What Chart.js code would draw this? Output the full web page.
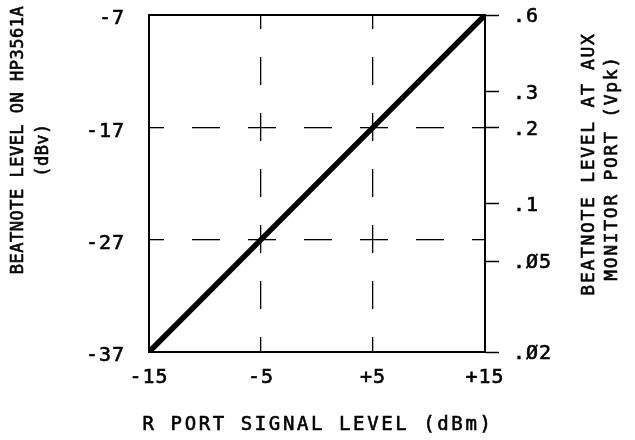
<!DOCTYPE html>
<html>
<head>
<meta charset="utf-8">
<script src="https://cdn.jsdelivr.net/npm/chart.js@4"></script>
<style>
  html, body { margin: 0; padding: 0; background: #fff; }
  #wrap { width: 635px; height: 440px; }
</style>
</head>
<body>
<div id="wrap"><canvas id="chart" width="635" height="440"></canvas></div>
<script>
// R port signal level (dBm) vs beatnote level (dBV)
const signalLevel = [-15, -5, 5, 15];
const beatnoteLevel = [-37, -27, -17, -7];

const xTickValues = [-15, -5, 5, 15];
const xTickLabels = ['-15', '-5', '+5', '+15'];
const yTickValues = [-37, -27, -17, -7];
// right axis: Vpk labels, placed at the dBV level
const rightTickValues = [-7, -13.8, -17, -23.8, -28.9, -37];
const rightTickLabels = ['.6', '.3', '.2', '.1', '.Ø5', '.Ø2'];

const FONT = 'DejaVu Sans Mono';

// dashed grid lines only at the inner ticks
const innerGrid = (lo, hi) => ctx => {
    const v = ctx.tick ? ctx.tick.value : null;
    return (v === lo || v === hi) ? 'rgba(0,0,0,0)' : '#000';
};

// no extra room for half labels at the ends, the plot box is fixed
const noPad = s => {
    s.paddingTop = 0;
    s.paddingBottom = 0;
    s.paddingLeft = 0;
    s.paddingRight = 0;
};

function rotatedText(ctx, text, x, y) {
    ctx.save();
    ctx.translate(x, y);
    ctx.rotate(-Math.PI / 2);
    ctx.strokeText(text, 0, 0);
    ctx.fillText(text, 0, 0);
    ctx.restore();
}

const titlePlugin = {
    id: 'titles',
    beforeDraw(chart) {
        chart.ctx.letterSpacing = '1px';
    },
    afterDraw(chart) {
        const ctx = chart.ctx;
        ctx.save();
        ctx.fillStyle = '#000';
        ctx.strokeStyle = '#000';
        ctx.lineWidth = 0.6;
        ctx.textAlign = 'center';
        ctx.textBaseline = 'middle';

        // bottom title
        ctx.font = '19px "' + FONT + '"';
        ctx.letterSpacing = '2.6px';
        ctx.strokeText('R PORT SIGNAL LEVEL (dBm)', 318, 425);
        ctx.fillText('R PORT SIGNAL LEVEL (dBm)', 318, 425);

        // left title
        ctx.font = '17px "' + FONT + '"';
        ctx.letterSpacing = '0.5px';
        rotatedText(ctx, 'BEATNOTE LEVEL ON HP3561A', 19, 140);
        rotatedText(ctx, '(dBv)', 44, 150);

        // right title
        ctx.font = '18px "' + FONT + '"';
        ctx.letterSpacing = '1.7px';
        rotatedText(ctx, 'BEATNOTE LEVEL AT AUX', 589, 164);
        rotatedText(ctx, 'MONITOR PORT (Vpk)', 612, 168);

        ctx.restore();
    }
};

const tickFont = { family: FONT, size: 20 };

const data = {
    datasets: [{
        data: signalLevel.map((x, i) => ({ x: x, y: beatnoteLevel[i] })),
        borderColor: '#000',
        borderWidth: 5.5,
        pointRadius: 0,
        tension: 0,
        xAxisID: 'x',
        yAxisID: 'y'
    }]
};

const config = {
    type: 'line',
    data: data,
    options: {
        responsive: false,
        animation: false,
        devicePixelRatio: 1,
        layout: { padding: { top: 15, left: 0, right: 0, bottom: 0 } },
        plugins: {
            legend: { display: false },
            tooltip: { enabled: false }
        },
        scales: {
            x: {
                type: 'linear',
                position: 'bottom',
                min: -15,
                max: 15,
                afterBuildTicks: s => { s.ticks = xTickValues.map(v => ({ value: v })); },
                afterFit: s => { s.height = 88; noPad(s); },
                ticks: {
                    callback: (v, i) => xTickLabels[i],
                    color: '#000',
                    textStrokeColor: '#000',
                    textStrokeWidth: 0.6,
                    padding: 14,
                    maxRotation: 0,
                    font: tickFont
                },
                grid: {
                    color: innerGrid(-15, 15),
                    lineWidth: 1.3,
                    drawTicks: false
                },
                border: { display: true, color: '#000', width: 2, dash: [28, 28], dashOffset: 14 }
            },
            xTop: {
                type: 'linear',
                position: 'top',
                min: -15,
                max: 15,
                afterFit: s => { s.height = 0; noPad(s); },
                ticks: { display: false },
                grid: { display: false },
                border: { display: true, color: '#000', width: 2 }
            },
            y: {
                type: 'linear',
                position: 'left',
                min: -37,
                max: -7,
                afterBuildTicks: s => { s.ticks = yTickValues.map(v => ({ value: v })); },
                afterFit: s => { s.width = 149; noPad(s); },
                ticks: {
                    color: '#000',
                    textStrokeColor: '#000',
                    textStrokeWidth: 0.6,
                    padding: 24,
                    labelOffset: 4,
                    font: tickFont
                },
                grid: {
                    color: innerGrid(-37, -7),
                    lineWidth: 1.3,
                    drawTicks: false
                },
                border: { display: true, color: '#000', width: 2, dash: [28, 28], dashOffset: 14 }
            },
            yRight: {
                type: 'linear',
                position: 'right',
                min: -37,
                max: -7,
                afterBuildTicks: s => { s.ticks = rightTickValues.map(v => ({ value: v })); },
                afterFit: s => { s.width = 150; noPad(s); },
                ticks: {
                    callback: (v, i) => rightTickLabels[i],
                    color: '#000',
                    textStrokeColor: '#000',
                    textStrokeWidth: 0.6,
                    padding: 14,
                    labelOffset: 2,
                    font: tickFont
                },
                grid: {
                    drawOnChartArea: false,
                    drawTicks: true,
                    tickLength: 14,
                    tickColor: '#000',
                    tickWidth: 1.5
                },
                border: { display: true, color: '#000', width: 2 }
            }
        }
    },
    plugins: [titlePlugin]
};

new Chart(document.getElementById('chart').getContext('2d'), config);
</script>
</body>
</html>
